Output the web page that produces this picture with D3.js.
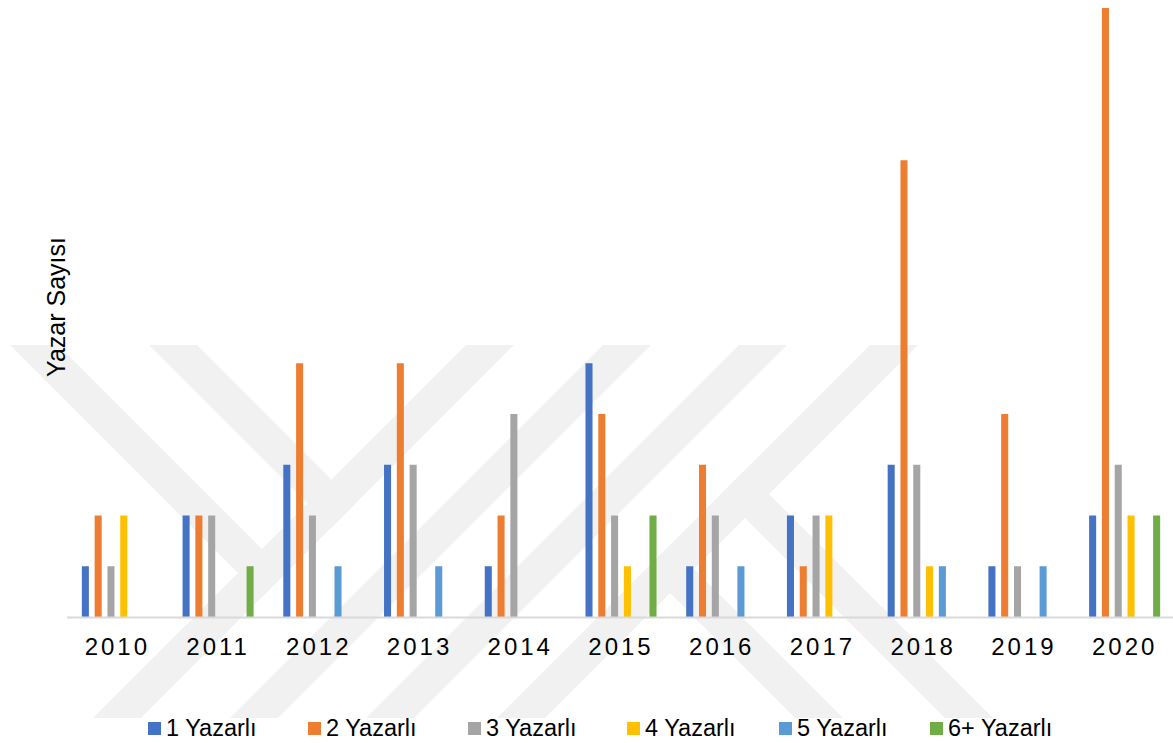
<!DOCTYPE html>
<html>
<head>
<meta charset="utf-8">
<script src="https://cdn.jsdelivr.net/npm/d3@7"></script>
<style>
  html, body { margin: 0; padding: 0; background: #fff; }
  svg { display: block; font-family: "Liberation Sans", Arial, sans-serif; }
</style>
</head>
<body>
<script>
// data
const years = ["2010","2011","2012","2013","2014","2015","2016","2017","2018","2019","2020"];
const series = ["1 Yazarlı","2 Yazarlı","3 Yazarlı","4 Yazarlı","5 Yazarlı","6+ Yazarlı"];
const yazarli1 = [1,2,3,3,1,5,1,2,3,1,2];
const yazarli2 = [2,2,5,5,2,4,3,1,9,4,12];
const yazarli3 = [1,2,2,3,4,2,2,2,3,1,3];
const yazarli4 = [2,0,0,0,0,1,0,2,1,0,2];
const yazarli5 = [0,0,1,1,0,0,1,0,1,1,0];
const yazarli6 = [0,1,0,0,0,2,0,0,0,0,2];
const values = [yazarli1, yazarli2, yazarli3, yazarli4, yazarli5, yazarli6];
const yTitle = "Yazar Sayısı";

// layout
const W = 1173, H = 743;
const colors = ["#4472C4","#ED7D31","#A5A5A5","#FFC000","#5B9BD5","#70AD47"];
const legendX = [148, 308, 468, 627, 779, 930];

const svg = d3.select("body").append("svg")
  .attr("width", W).attr("height", H);

// watermark (light diagonal bands behind the chart)
const wm = svg.append("g").attr("fill", "#f1f1f1");
const wTop = 345, wBot = 718, bw = 48;
// "/" bands, bottom-left x
const slash = [93, 230, 366, 497];
slash.forEach(b => {
  wm.append("polygon").attr("points", [
    [b, wBot], [b + bw, wBot], [b + bw + (wBot - wTop), wTop], [b + (wBot - wTop), wTop]
  ].join(" "));
});
// "\" bands from the top, ending on first "/" band
const edge1 = slash[0] + bw + wBot; // x = edge1 - y
[10, 149].forEach(t => {
  const yl = (edge1 - t + wTop) / 2, yr = (edge1 - t - bw + wTop) / 2;
  wm.append("polygon").attr("points", [
    [t, wTop], [t + bw, wTop], [t + bw + (yr - wTop), yr], [t + (yl - wTop), yl]
  ].join(" "));
});
// "\" bands leaving last "/" band towards the bottom
const edge4 = slash[3] + wBot; // x = edge4 - y
[945, 795].forEach(r => {
  const yl = (edge4 + wBot - r) / 2, yr = (edge4 + wBot - r - bw) / 2;
  wm.append("polygon").attr("points", [
    [r + (yl - wBot), yl], [r + bw + (yr - wBot), yr], [r + bw, wBot], [r, wBot]
  ].join(" "));
});

// scales
const x = d3.scaleBand().domain(years).range([67, 1175]);
const groupW = 76.8;
const xi = d3.scaleBand().domain(series)
  .range([(x.bandwidth() - groupW) / 2, (x.bandwidth() + groupW) / 2])
  .paddingInner(0.45).paddingOuter(0.225);
const y = d3.scaleLinear().domain([0, 12]).range([617, 8]);

// bars
const groups = svg.append("g").selectAll("g")
  .data(years).enter().append("g")
  .attr("transform", d => "translate(" + x(d) + ",0)");

groups.selectAll("rect")
  .data((d, i) => series.map((s, j) => ({ s: s, v: values[j][i], c: colors[j] })).filter(e => e.v > 0))
  .enter().append("rect")
  .attr("x", d => xi(d.s))
  .attr("width", xi.bandwidth())
  .attr("y", d => y(d.v))
  .attr("height", d => y(0) - y(d.v))
  .attr("fill", d => d.c);

// x axis line
svg.append("line")
  .attr("x1", 67).attr("x2", W)
  .attr("y1", y(0) + 0.5).attr("y2", y(0) + 0.5)
  .attr("stroke", "#d9d9d9").attr("stroke-width", 2);

// category labels
svg.append("g").selectAll("text")
  .data(years).enter().append("text")
  .attr("x", d => x(d) + x.bandwidth() / 2)
  .attr("y", 655)
  .attr("text-anchor", "middle")
  .attr("font-size", 24)
  .attr("letter-spacing", 3)
  .attr("fill", "#000")
  .text(d => d);

// y title
svg.append("text")
  .attr("transform", "translate(65,307) rotate(-90)")
  .attr("text-anchor", "middle")
  .attr("font-size", 25)
  .attr("fill", "#000")
  .text(yTitle);

// legend
const leg = svg.append("g").selectAll("g")
  .data(series).enter().append("g")
  .attr("transform", (d, i) => "translate(" + legendX[i] + ",0)");
leg.append("rect")
  .attr("x", 0).attr("y", 722).attr("width", 13).attr("height", 13)
  .attr("fill", (d, i) => colors[i]);
leg.append("text")
  .attr("x", 18).attr("y", 736)
  .attr("font-size", 23.5)
  .attr("fill", "#000")
  .text(d => d);
</script>
</body>
</html>
